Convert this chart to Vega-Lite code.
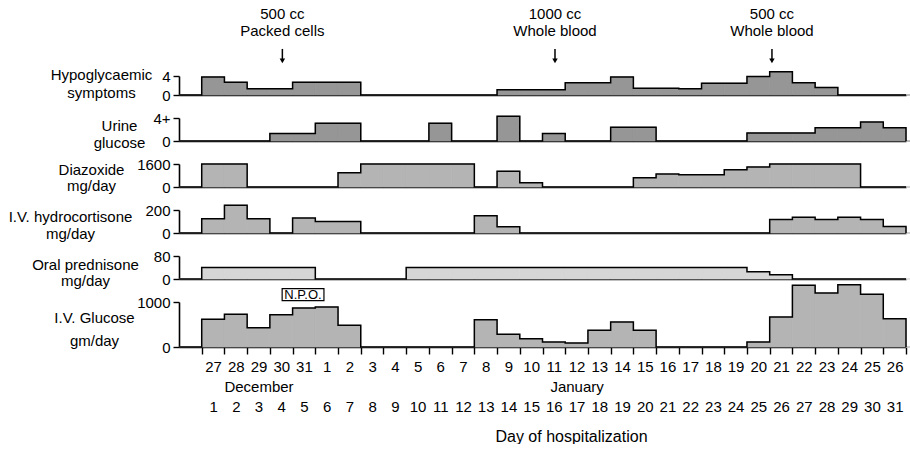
{
  "$schema": "https://vega.github.io/schema/vega-lite/v6.json",
  "background": "white",
  "autosize": {"type": "pad"},
  "padding": {"left": 8, "top": 7, "right": 0, "bottom": 0},
  "spacing": 23,
  "bounds": "flush",
  "config": {
    "font": "Liberation Sans",
    "view": {"stroke": null},
    "axis": {
      "labelFontSize": 15, "titleFontSize": 15, "titleFontWeight": "normal",
      "labelColor": "black", "titleColor": "black", "domainColor": "black", "tickColor": "black",
      "grid": false, "labelOverlap": false, "labelFlush": false, "domainWidth": 1.6, "tickWidth": 1.4
    },
    "axisY": {"tickSize": 6, "labelPadding": 3, "titleAngle": 0, "titleAlign": "center", "titleBaseline": "middle", "format": "d"},
    "text": {"fontSize": 15, "color": "black"}
  },
  "datasets": {
    "days": [
      {"day": 0, "hypo": 0, "urine": 0, "diaz": 0, "hydro": 0, "pred": 0, "glucose": 0},
      {"day": 1, "hypo": 3.8, "urine": 0, "diaz": 1600, "hydro": 125, "pred": 40, "glucose": 615},
      {"day": 2, "hypo": 2.7, "urine": 0, "diaz": 1600, "hydro": 242, "pred": 40, "glucose": 726},
      {"day": 3, "hypo": 1.3, "urine": 0, "diaz": 0, "hydro": 125, "pred": 40, "glucose": 430},
      {"day": 4, "hypo": 1.3, "urine": 1.3, "diaz": 0, "hydro": 0, "pred": 40, "glucose": 718},
      {"day": 5, "hypo": 2.7, "urine": 1.3, "diaz": 0, "hydro": 130, "pred": 40, "glucose": 867},
      {"day": 6, "hypo": 2.7, "urine": 3.1, "diaz": 0, "hydro": 100, "pred": 0, "glucose": 889},
      {"day": 7, "hypo": 2.7, "urine": 3.1, "diaz": 1000, "hydro": 100, "pred": 0, "glucose": 481},
      {"day": 8, "hypo": 0, "urine": 0, "diaz": 1600, "hydro": 0, "pred": 0, "glucose": 0},
      {"day": 9, "hypo": 0, "urine": 0, "diaz": 1600, "hydro": 0, "pred": 0, "glucose": 0},
      {"day": 10, "hypo": 0, "urine": 0, "diaz": 1600, "hydro": 0, "pred": 40, "glucose": 0},
      {"day": 11, "hypo": 0, "urine": 3.1, "diaz": 1600, "hydro": 0, "pred": 40, "glucose": 0},
      {"day": 12, "hypo": 0, "urine": 0, "diaz": 1600, "hydro": 0, "pred": 40, "glucose": 0},
      {"day": 13, "hypo": 0, "urine": 0, "diaz": 0, "hydro": 150, "pred": 40, "glucose": 607},
      {"day": 14, "hypo": 1.1, "urine": 4.3, "diaz": 1100, "hydro": 55, "pred": 40, "glucose": 281},
      {"day": 15, "hypo": 1.1, "urine": 0, "diaz": 300, "hydro": 0, "pred": 40, "glucose": 185},
      {"day": 16, "hypo": 1.1, "urine": 1.3, "diaz": 0, "hydro": 0, "pred": 40, "glucose": 111},
      {"day": 17, "hypo": 2.6, "urine": 0, "diaz": 0, "hydro": 0, "pred": 40, "glucose": 89},
      {"day": 18, "hypo": 2.6, "urine": 0, "diaz": 0, "hydro": 0, "pred": 40, "glucose": 370},
      {"day": 19, "hypo": 3.8, "urine": 2.4, "diaz": 0, "hydro": 0, "pred": 40, "glucose": 556},
      {"day": 20, "hypo": 1.4, "urine": 2.4, "diaz": 650, "hydro": 0, "pred": 40, "glucose": 370},
      {"day": 21, "hypo": 1.4, "urine": 0, "diaz": 900, "hydro": 0, "pred": 40, "glucose": 0},
      {"day": 22, "hypo": 1.3, "urine": 0, "diaz": 850, "hydro": 0, "pred": 40, "glucose": 0},
      {"day": 23, "hypo": 2.5, "urine": 0, "diaz": 850, "hydro": 0, "pred": 40, "glucose": 0},
      {"day": 24, "hypo": 2.5, "urine": 0, "diaz": 1200, "hydro": 0, "pred": 40, "glucose": 0},
      {"day": 25, "hypo": 3.9, "urine": 1.4, "diaz": 1400, "hydro": 0, "pred": 25, "glucose": 111},
      {"day": 26, "hypo": 4.9, "urine": 1.4, "diaz": 1600, "hydro": 117, "pred": 15, "glucose": 667},
      {"day": 27, "hypo": 2.6, "urine": 1.4, "diaz": 1600, "hydro": 136, "pred": 0, "glucose": 1370},
      {"day": 28, "hypo": 1.6, "urine": 2.3, "diaz": 1600, "hydro": 117, "pred": 0, "glucose": 1200},
      {"day": 29, "hypo": 0, "urine": 2.3, "diaz": 1600, "hydro": 136, "pred": 0, "glucose": 1385},
      {"day": 30, "hypo": 0, "urine": 3.3, "diaz": 0, "hydro": 117, "pred": 0, "glucose": 1170},
      {"day": 31, "hypo": 0, "urine": 2.3, "diaz": 0, "hydro": 56, "pred": 0, "glucose": 630},
      {"day": 32, "hypo": 0, "urine": 0, "diaz": 0, "hydro": 0, "pred": 0, "glucose": 0}
    ],
    "notes": [
      {"at": 3.55, "label": "500 cc\nPacked cells"},
      {"at": 15.55, "label": "1000 cc\nWhole blood"},
      {"at": 25.1, "label": "500 cc\nWhole blood"}
    ]
  },
  "vconcat": [
    {
      "width": 727, "height": 19,
      "data": {"name": "days"},
      "transform": [{"calculate": "datum.day - 1", "as": "start"}],
      "encoding": {
        "x": {"field": "start", "type": "quantitative", "scale": {"domain": [-1, 31], "nice": false, "zero": false, "padding": 0},
              "axis": {"labels": false, "ticks": false, "title": null}}
      },
      "layer": [
        {"mark": {"type": "rect", "fill": "#969696", "stroke": "#969696", "strokeWidth": 0.8},
         "encoding": {"x2": {"field": "day"},
           "y": {"field": "hypo", "type": "quantitative", "scale": {"domain": [0, 4], "nice": false, "padding": 0},
                 "axis": {"values": [0, 4], "title": ["Hypoglycaemic", "symptoms"], "titleX": -78, "titleY": -2, "titleLineHeight": 18}},
           "y2": {"datum": 0}}},
        {"mark": {"type": "line", "interpolate": "step-after", "color": "black", "strokeWidth": 1.5},
         "encoding": {"y": {"field": "hypo", "type": "quantitative"}}},
        {"data": {"name": "notes"},
         "mark": {"type": "text", "lineBreak": "\n", "lineHeight": 17, "baseline": "middle", "align": "center"},
         "encoding": {"x": {"field": "at", "type": "quantitative"}, "y": {"datum": 17.05, "type": "quantitative"}, "text": {"field": "label"}}},
        {"data": {"name": "notes"},
         "mark": {"type": "rule", "color": "black", "strokeWidth": 1.5},
         "encoding": {"x": {"field": "at", "type": "quantitative"}, "y": {"datum": 9.7, "type": "quantitative"}, "y2": {"datum": 7.4}}},
        {"data": {"name": "notes"},
         "mark": {"type": "point", "shape": "triangle-down", "filled": true, "size": 30, "color": "black", "opacity": 1},
         "encoding": {"x": {"field": "at", "type": "quantitative"}, "y": {"datum": 7.2, "type": "quantitative"}}}
      ]
    },
    {
      "width": 727, "height": 23,
      "data": {"name": "days"},
      "transform": [{"calculate": "datum.day - 1", "as": "start"}],
      "encoding": {
        "x": {"field": "start", "type": "quantitative", "scale": {"domain": [-1, 31], "nice": false, "zero": false, "padding": 0},
              "axis": {"labels": false, "ticks": false, "title": null}}
      },
      "layer": [
        {"mark": {"type": "rect", "fill": "#969696", "stroke": "#969696", "strokeWidth": 0.8},
         "encoding": {"x2": {"field": "day"},
           "y": {"field": "urine", "type": "quantitative", "scale": {"domain": [0, 4], "nice": false, "padding": 0},
                 "axis": {"values": [0, 4], "labelExpr": "datum.value == 4 ? '4+' : '0'", "title": ["Urine", "glucose"], "titleX": -60, "titleY": 7, "titleLineHeight": 17}},
           "y2": {"datum": 0}}},
        {"mark": {"type": "line", "interpolate": "step-after", "color": "black", "strokeWidth": 1.5},
         "encoding": {"y": {"field": "urine", "type": "quantitative"}}}
      ]
    },
    {
      "width": 727, "height": 23,
      "data": {"name": "days"},
      "transform": [{"calculate": "datum.day - 1", "as": "start"}],
      "encoding": {
        "x": {"field": "start", "type": "quantitative", "scale": {"domain": [-1, 31], "nice": false, "zero": false, "padding": 0},
              "axis": {"labels": false, "ticks": false, "title": null}}
      },
      "layer": [
        {"mark": {"type": "rect", "fill": "#b4b4b4", "stroke": "#b4b4b4", "strokeWidth": 0.8},
         "encoding": {"x2": {"field": "day"},
           "y": {"field": "diaz", "type": "quantitative", "scale": {"domain": [0, 1600], "nice": false, "padding": 0},
                 "axis": {"values": [0, 1600], "title": ["Diazoxide", "mg/day"], "titleX": -88, "titleY": 5, "titleLineHeight": 16}},
           "y2": {"datum": 0}}},
        {"mark": {"type": "line", "interpolate": "step-after", "color": "black", "strokeWidth": 1.5},
         "encoding": {"y": {"field": "diaz", "type": "quantitative"}}}
      ]
    },
    {
      "width": 727, "height": 23,
      "data": {"name": "days"},
      "transform": [{"calculate": "datum.day - 1", "as": "start"}],
      "encoding": {
        "x": {"field": "start", "type": "quantitative", "scale": {"domain": [-1, 31], "nice": false, "zero": false, "padding": 0},
              "axis": {"labels": false, "ticks": false, "title": null}}
      },
      "layer": [
        {"mark": {"type": "rect", "fill": "#b4b4b4", "stroke": "#b4b4b4", "strokeWidth": 0.8},
         "encoding": {"x2": {"field": "day"},
           "y": {"field": "hydro", "type": "quantitative", "scale": {"domain": [0, 200], "nice": false, "padding": 0},
                 "axis": {"values": [0, 200], "title": ["I.V. hydrocortisone", "mg/day"], "titleX": -109, "titleY": 6, "titleLineHeight": 17}},
           "y2": {"datum": 0}}},
        {"mark": {"type": "line", "interpolate": "step-after", "color": "black", "strokeWidth": 1.5},
         "encoding": {"y": {"field": "hydro", "type": "quantitative"}}}
      ]
    },
    {
      "width": 727, "height": 23,
      "data": {"name": "days"},
      "transform": [{"calculate": "datum.day - 1", "as": "start"}],
      "encoding": {
        "x": {"field": "start", "type": "quantitative", "scale": {"domain": [-1, 31], "nice": false, "zero": false, "padding": 0},
              "axis": {"labels": false, "ticks": false, "title": null}}
      },
      "layer": [
        {"mark": {"type": "rect", "fill": "#d6d6d6", "stroke": "#d6d6d6", "strokeWidth": 0.8},
         "encoding": {"x2": {"field": "day"},
           "y": {"field": "pred", "type": "quantitative", "scale": {"domain": [0, 80], "nice": false, "padding": 0},
                 "axis": {"values": [0, 80], "title": ["Oral prednisone", "mg/day"], "titleX": -94, "titleY": 8, "titleLineHeight": 16}},
           "y2": {"datum": 0}}},
        {"mark": {"type": "line", "interpolate": "step-after", "color": "black", "strokeWidth": 1.5},
         "encoding": {"y": {"field": "pred", "type": "quantitative"}}}
      ]
    },
    {
      "width": 727, "height": 45,
      "data": {"name": "days"},
      "transform": [{"calculate": "datum.day - 1", "as": "start"}],
      "resolve": {"axis": {"x": "independent"}},
      "layer": [
        {"mark": {"type": "rect", "fill": "#b4b4b4", "stroke": "#b4b4b4", "strokeWidth": 0.8},
         "encoding": {
           "x": {"field": "start", "type": "quantitative", "scale": {"domain": [-1, 31], "nice": false, "zero": false, "padding": 0},
                 "axis": {"orient": "bottom", "values": [0,1,2,3,4,5,6,7,8,9,10,11,12,13,14,15,16,17,18,19,20,21,22,23,24,25,26,27,28,29,30,31],
                          "labels": false, "tickSize": 7, "title": null}},
           "x2": {"field": "day"},
           "y": {"field": "glucose", "type": "quantitative", "scale": {"domain": [0, 1000], "nice": false, "padding": 0},
                 "axis": {"values": [0, 500, 1000], "title": ["I.V. Glucose", "gm/day"], "titleX": -85, "titleY": 15, "titleLineHeight": 23}},
           "y2": {"datum": 0}}},
        {"mark": {"type": "line", "interpolate": "step-after", "color": "black", "strokeWidth": 1.5},
         "encoding": {
           "x": {"field": "start", "type": "quantitative",
                 "axis": {"orient": "bottom", "values": [0.5,1.5,2.5,3.5,4.5,5.5,6.5,7.5,8.5,9.5,10.5,11.5,12.5,13.5,14.5,15.5,16.5,17.5,18.5,19.5,20.5,21.5,22.5,23.5,24.5,25.5,26.5,27.5,28.5,29.5,30.5],
                          "ticks": false, "tickSize": 0, "domain": false, "labelBaseline": "top", "labelPadding": 12, "labelLineHeight": 40,
                          "labelExpr": "[['27','28','29','30','31','1','2','3','4','5','6','7','8','9','10','11','12','13','14','15','16','17','18','19','20','21','22','23','24','25','26'][datum.value - 0.5], '' + (datum.value + 0.5)]",
                          "title": "Day of hospitalization", "titleFontSize": 16, "titleX": 392, "titleY": 89, "titleBaseline": "middle", "titleAlign": "center"}},
           "y": {"field": "glucose", "type": "quantitative"}}},
        {"data": {"values": [{"note": "N.P.O."}]},
         "mark": {"type": "rect", "fill": "white", "stroke": "black", "strokeWidth": 1.2},
         "encoding": {"x": {"datum": 3.54, "type": "quantitative",
                            "axis": {"orient": "bottom", "values": [2.5, 16.5], "ticks": false, "tickSize": 0, "domain": false,
                                     "labelBaseline": "top", "labelPadding": 32, "title": null,
                                     "labelExpr": "datum.value == 2.5 ? 'December' : 'January'"}},
                      "x2": {"datum": 5.38},
                      "y": {"datum": 1029, "type": "quantitative"}, "y2": {"datum": 1296}}},
        {"data": {"values": [{"note": "N.P.O."}]},
         "mark": {"type": "text", "fontSize": 13, "baseline": "middle", "align": "center"},
         "encoding": {"x": {"datum": 4.46, "type": "quantitative", "axis": null},
                      "y": {"datum": 1162, "type": "quantitative"}, "text": {"field": "note"}}}
      ]
    }
  ]
}
